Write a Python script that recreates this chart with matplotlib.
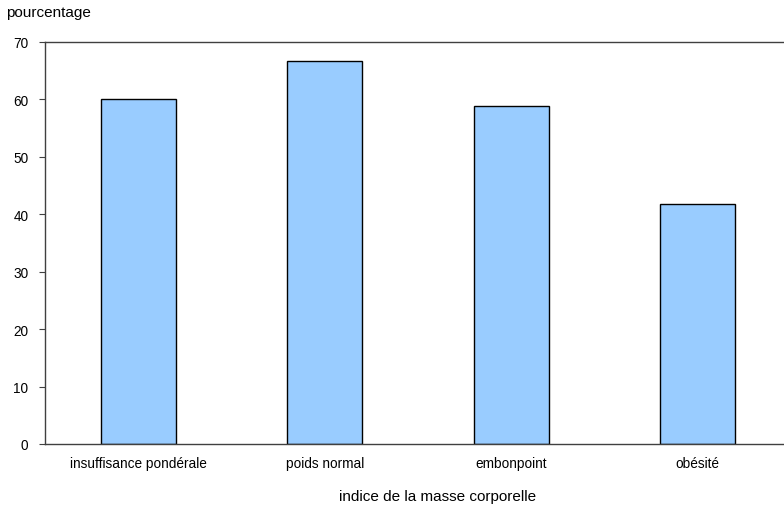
import matplotlib
matplotlib.use('Agg')
import matplotlib.pyplot as plt

categories = ['insuffisance pondérale', 'poids normal', 'embonpoint', 'obésité']
values = [60.0, 66.7, 58.8, 41.8]
yticks = [0, 10, 20, 30, 40, 50, 60, 70]

plt.rcParams['font.family'] = ['Liberation Sans', 'DejaVu Sans']
plt.rcParams['font.size'] = 10

fig = plt.figure(figsize=(7.84, 5.10), dpi=100)
ax = fig.add_axes([45 / 784, 65 / 510, 746 / 784, 402 / 510])

x = range(len(categories))
ax.bar(x, values, width=0.4, color='#99ccff', edgecolor='black', linewidth=1)

ax.set_xlim(-0.5, 3.5)
ax.set_ylim(0, 70)
ax.set_yticks(yticks)
ax.set_xticks(list(x))
ax.set_xticklabels(categories)
ax.tick_params(axis='x', length=0, pad=9, labelsize=9.8)
ax.tick_params(axis='y', length=4, color='#404040', pad=8, labelsize=9.8)

ax.spines['right'].set_visible(False)
for s in ['top', 'left', 'bottom']:
    ax.spines[s].set_color('#404040')
    ax.spines[s].set_linewidth(1)

fig.text(6 / 784, 1 - 13 / 510, 'pourcentage', ha='left', va='center', fontsize=11)
fig.text(438 / 784, 1 - 497 / 510, 'indice de la masse corporelle', ha='center', va='center', fontsize=11)

fig.savefig('out.png', dpi=100)
